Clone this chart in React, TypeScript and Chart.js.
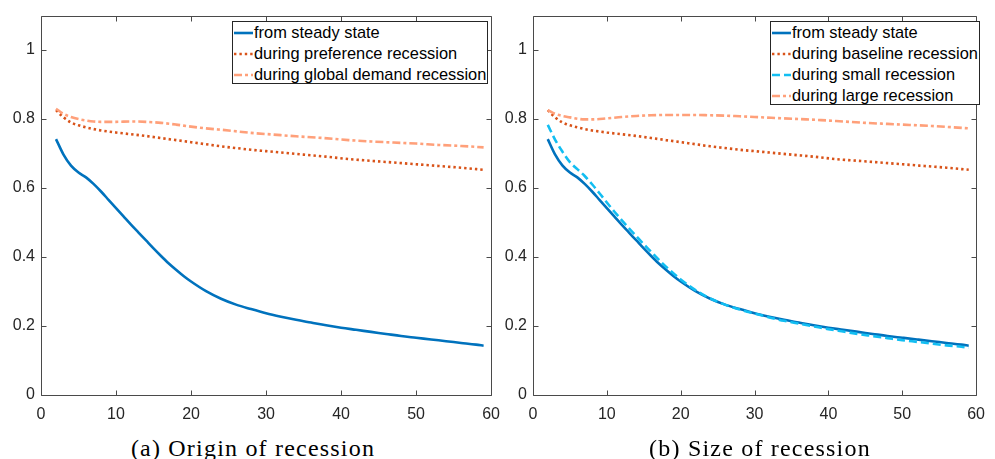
import React, { useEffect, useRef } from "react";
import { Chart, registerables } from "chart.js";

Chart.register(...registerables);

// ---------- data ----------
const xTicks = [0, 10, 20, 30, 40, 50, 60];
const yTicks = [0, 0.2, 0.4, 0.6, 0.8, 1];

const steadyX = [2, 3, 4, 5, 6, 7, 8, 9, 10, 11, 12, 13, 14, 15, 16, 17, 18, 19, 20, 22, 24, 26, 28, 30, 32, 34, 36, 38, 40, 42, 44, 46, 48, 50, 52, 54, 56, 58, 59];
const steadyY = [0.742, 0.697, 0.665, 0.645, 0.631, 0.612, 0.59, 0.566, 0.542, 0.518, 0.494, 0.471, 0.448, 0.425, 0.403, 0.382, 0.363, 0.345, 0.329, 0.301, 0.279, 0.262, 0.249, 0.237, 0.227, 0.218, 0.21, 0.202, 0.195, 0.189, 0.183, 0.177, 0.171, 0.166, 0.161, 0.156, 0.151, 0.146, 0.143];

const baselineX = [2, 3, 4, 5, 6, 7, 8, 10, 12, 14, 16, 18, 20, 22, 24, 26, 28, 30, 32, 35, 38, 41, 44, 47, 50, 53, 56, 59];
const baselineY = [0.826, 0.805, 0.79, 0.782, 0.776, 0.771, 0.767, 0.761, 0.756, 0.751, 0.745, 0.739, 0.733, 0.727, 0.721, 0.716, 0.711, 0.707, 0.703, 0.697, 0.691, 0.684, 0.679, 0.674, 0.669, 0.664, 0.659, 0.653];

const globalX = [2, 3, 4, 5, 6, 7, 8, 10, 12, 14, 16, 18, 20, 22, 25, 28, 31, 34, 37, 41, 44, 47, 50, 53, 56, 59];
const globalY = [0.83, 0.815, 0.806, 0.8, 0.796, 0.793, 0.792, 0.792, 0.793, 0.792, 0.789, 0.784, 0.778, 0.773, 0.767, 0.76, 0.755, 0.75, 0.746, 0.739, 0.735, 0.732, 0.729, 0.725, 0.722, 0.718];

const smallX = [2, 3, 4, 5, 6, 7, 8, 9, 10, 11, 12, 13, 14, 15, 16, 17, 18, 19, 20, 22, 24, 26, 28, 30, 32, 34, 36, 38, 40, 42, 44, 46, 48, 50, 52, 54, 56, 58, 59];
const smallY = [0.783, 0.74, 0.705, 0.675, 0.655, 0.635, 0.611, 0.585, 0.558, 0.532, 0.507, 0.483, 0.46, 0.437, 0.415, 0.393, 0.372, 0.353, 0.335, 0.304, 0.28, 0.262, 0.248, 0.236, 0.225, 0.215, 0.207, 0.199, 0.191, 0.184, 0.177, 0.171, 0.165, 0.159, 0.154, 0.149, 0.144, 0.14, 0.137];

const largeX = [2, 3, 4, 5, 6, 7, 8, 10, 12, 14, 16, 18, 20, 22, 24, 26, 28, 30, 33, 36, 39, 42, 45, 48, 51, 54, 57, 59];
const largeY = [0.826, 0.815, 0.809, 0.805, 0.801, 0.799, 0.799, 0.802, 0.806, 0.809, 0.811, 0.812, 0.812, 0.812, 0.811, 0.81, 0.808, 0.806, 0.803, 0.8, 0.797, 0.793, 0.789, 0.786, 0.783, 0.78, 0.776, 0.773];

const leftLabels = ["from steady state", "during preference recession", "during global demand recession"];
const rightLabels = ["from steady state", "during baseline recession", "during small recession", "during large recession"];
const captions = ["(a) Origin of recession", "(b) Size of recession"];

// ---------- styles ----------
const AXIS = "#4a4a4a";
const TICK_TEXT = "#262626";
const FONT = "'Liberation Sans', Arial, Helvetica, sans-serif";

type Style = { color: string; dash: number[]; width: number };
const sSteady: Style = { color: "#0072BD", dash: [], width: 2.6 };
const sDotted: Style = { color: "#D95319", dash: [2.4, 3], width: 2.6 };
const sDashDot: Style = { color: "#FFA07A", dash: [8, 3, 3, 3], width: 2.6 };
const sDashed: Style = { color: "#12BEF2", dash: [8, 4], width: 2.6 };

type Series = { label: string; xs: number[]; ys: number[]; style: Style };

const leftSeries: Series[] = [
  { label: leftLabels[0], xs: steadyX, ys: steadyY, style: sSteady },
  { label: leftLabels[1], xs: baselineX, ys: baselineY, style: sDotted },
  { label: leftLabels[2], xs: globalX, ys: globalY, style: sDashDot },
];
const rightSeries: Series[] = [
  { label: rightLabels[0], xs: steadyX, ys: steadyY, style: sSteady },
  { label: rightLabels[1], xs: baselineX, ys: baselineY, style: sDotted },
  { label: rightLabels[2], xs: smallX, ys: smallY, style: sDashed },
  { label: rightLabels[3], xs: largeX, ys: largeY, style: sDashDot },
];

const boxPlugin = {
  id: "matlabBox",
  afterDraw(chart: any) {
    const { ctx, chartArea: a, scales } = chart;
    const L = Math.round(a.left) + 0.5;
    const R = Math.round(a.right) + 0.5;
    const T = Math.round(a.top) + 0.5;
    const B = Math.round(a.bottom) + 0.5;
    const len = 5;
    ctx.save();
    ctx.strokeStyle = AXIS;
    ctx.lineWidth = 1;
    ctx.setLineDash([]);
    ctx.beginPath();
    ctx.rect(L, T, R - L, B - T);
    for (const t of scales.x.ticks) {
      const px = Math.round(scales.x.getPixelForValue(t.value)) + 0.5;
      ctx.moveTo(px, B);
      ctx.lineTo(px, B - len);
      ctx.moveTo(px, T);
      ctx.lineTo(px, T + len);
    }
    for (const t of scales.y.ticks) {
      const py = Math.round(scales.y.getPixelForValue(t.value)) + 0.5;
      ctx.moveTo(L, py);
      ctx.lineTo(L + len, py);
      ctx.moveTo(R, py);
      ctx.lineTo(R - len, py);
    }
    ctx.stroke();
    ctx.restore();
  },
};

function Panel(props: { series: Series[]; left: number; width: number; yAxisW: number; padRight: number }) {
  const ref = useRef<HTMLCanvasElement | null>(null);
  useEffect(() => {
    if (!ref.current) return;
    const n = props.series.length;
    const chart = new Chart(ref.current, {
      type: "line",
      data: {
        datasets: props.series.map((s, i) => ({
          label: s.label,
          data: s.xs.map((x, j) => ({ x, y: s.ys[j] })),
          borderColor: s.style.color,
          backgroundColor: s.style.color,
          borderDash: s.style.dash,
          borderWidth: s.style.width,
          pointRadius: 0,
          fill: false,
          cubicInterpolationMode: "monotone" as const,
          order: n - i,
        })),
      },
      options: {
        responsive: false,
        animation: false,
        layout: { padding: { left: 0, right: props.padRight, top: 15, bottom: 0 } },
        plugins: { legend: { display: false }, tooltip: { enabled: false } },
        scales: {
          x: {
            type: "linear",
            min: 0,
            max: 60,
            afterBuildTicks: (s: any) => {
              s.ticks = xTicks.map((v) => ({ value: v }));
            },
            afterFit: (s: any) => {
              s.height = 25;
            },
            grid: { display: false, drawTicks: false, tickLength: 0 },
            border: { display: false },
            ticks: {
              padding: 10,
              color: TICK_TEXT,
              font: { family: FONT, size: 16 },
              maxRotation: 0,
              autoSkip: false,
              callback: (v: any) => String(v),
            },
          },
          y: {
            type: "linear",
            min: 0,
            max: 1.1,
            afterBuildTicks: (s: any) => {
              s.ticks = yTicks.map((v) => ({ value: v }));
            },
            afterFit: (s: any) => {
              s.width = props.yAxisW;
            },
            grid: { display: false, drawTicks: false, tickLength: 0 },
            border: { display: false },
            ticks: {
              padding: 6,
              color: TICK_TEXT,
              font: { family: FONT, size: 16 },
              autoSkip: false,
              callback: (v: any) => String(Math.round(Number(v) * 10) / 10),
            },
          },
        },
      },
      plugins: [boxPlugin],
    } as any);
    return () => chart.destroy();
  }, []);
  return (
    <canvas
      ref={ref}
      width={props.width}
      height={420}
      style={{ position: "absolute", left: props.left, top: 0, width: props.width, height: 420, display: "block" }}
    />
  );
}

function Legend(props: { series: Series[]; left: number; top: number; width: number }) {
  return (
    <div
      style={{
        position: "absolute",
        left: props.left,
        top: props.top,
        width: props.width,
        height: props.series.length * 21,
        border: "1px solid #262626",
        background: "#fff",
        boxSizing: "border-box",
        fontFamily: FONT,
        fontSize: 16.4,
        color: "#000",
      }}
    >
      {props.series.map((s, i) => (
        <div key={i} style={{ height: 21, display: "flex", alignItems: "center", whiteSpace: "nowrap" }}>
          <svg width={20} height={21} style={{ flex: "none" }}>
            <line
              x1={1}
              y1={11}
              x2={20}
              y2={11}
              stroke={s.style.color}
              strokeWidth={s.style.width}
              strokeDasharray={s.style.dash.length ? s.style.dash.join(" ") : undefined}
            />
          </svg>
          <span style={{ marginLeft: 1 }}>{s.label}</span>
        </div>
      ))}
    </div>
  );
}

export default function App() {
  return (
    <div style={{ position: "absolute", left: 0, top: 0, width: 995, height: 459, background: "#fff", overflow: "hidden" }}>
      <Panel series={leftSeries} left={0} width={510} yAxisW={41} padRight={17} />
      <Panel series={rightSeries} left={500} width={495} yAxisW={33} padRight={10} />
      <Legend series={leftSeries} left={232} top={21} width={256} />
      <Legend series={rightSeries} left={770} top={21} width={210} />
      {captions.map((c, i) => (
        <div
          key={i}
          style={{
            position: "absolute",
            left: i === 0 ? 3 : 510,
            width: 500,
            top: 435,
            textAlign: "center",
            fontFamily: "'Liberation Serif', 'DejaVu Serif', serif",
            fontSize: 24,
            letterSpacing: 1.2,
            lineHeight: "26px",
            color: "#000",
            whiteSpace: "nowrap",
          }}
        >
          {c}
        </div>
      ))}
    </div>
  );
}
